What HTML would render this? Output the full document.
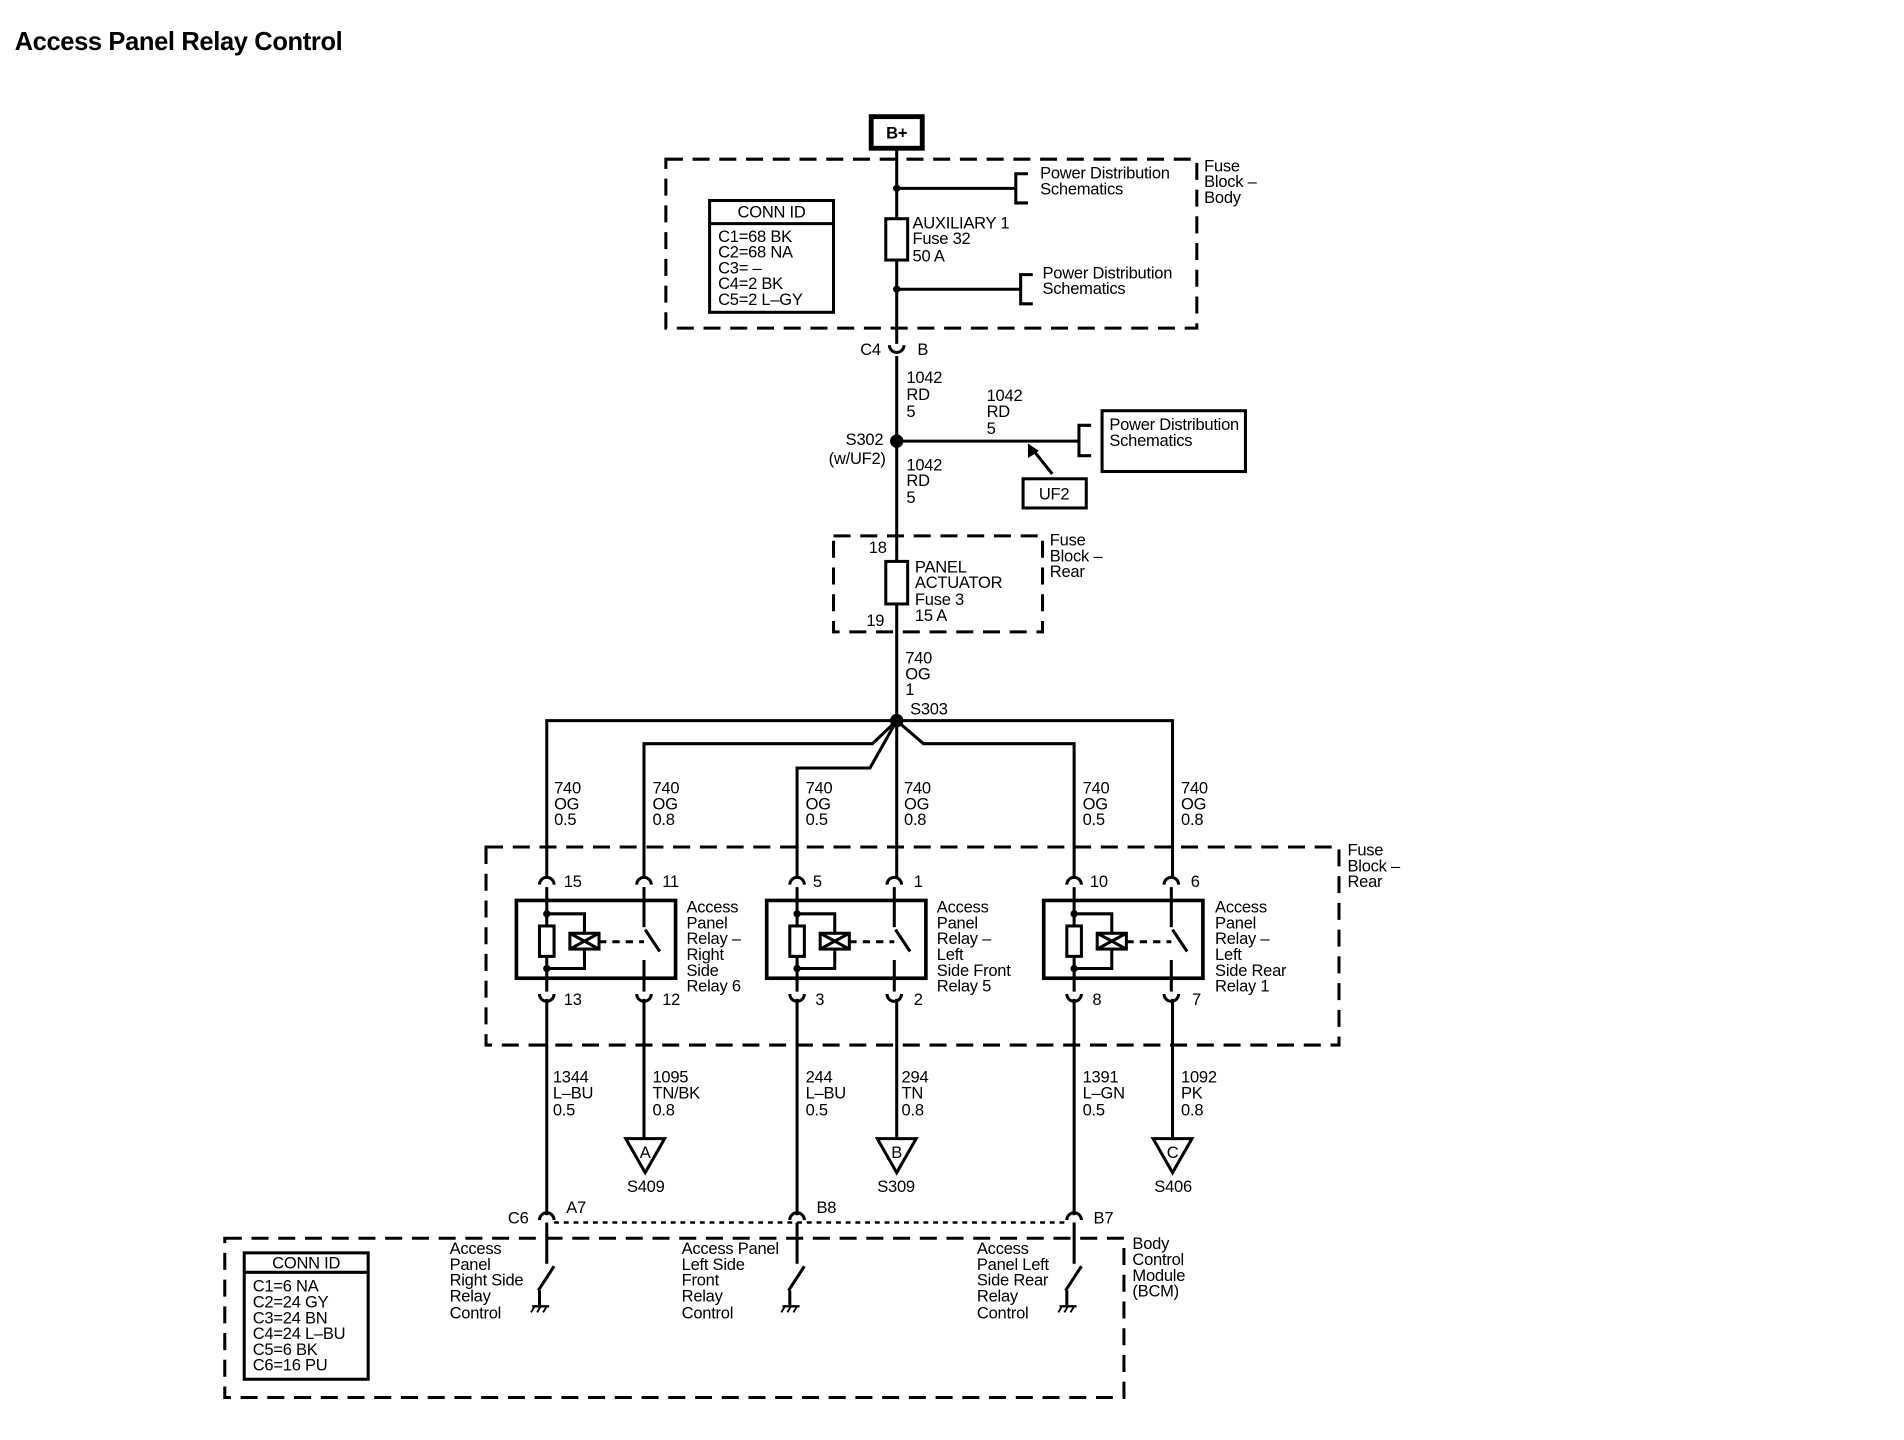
<!DOCTYPE html>
<html><head><meta charset="utf-8"><style>
html,body{margin:0;padding:0;background:#fff;}
svg{display:block}
text{font-family:"Liberation Sans",Arial,sans-serif;font-size:13.6px;fill:#000;letter-spacing:-0.2px}
</style></head><body>
<svg width="1904" height="1440" viewBox="0 0 1567 1185" preserveAspectRatio="none" xmlns="http://www.w3.org/2000/svg">
<g stroke="#000" stroke-width="2.5" fill="none">
<g stroke-dasharray="14,8">
<rect x="548" y="131" width="437" height="139"/>
<rect x="686" y="441" width="172" height="79"/>
<rect x="400" y="697" width="702" height="163"/>
<rect x="185" y="1019" width="740" height="131"/>
</g>
<line x1="456" y1="1006" x2="878" y2="1006" stroke-dasharray="4,4" stroke-width="2"/>
<rect x="717" y="96" width="42" height="26" stroke-width="4"/>
<line x1="738" y1="123" x2="738" y2="283"/>
<line x1="738" y1="293" x2="738" y2="593"/>
<path d="M732,284 A6,6 0 0 0 744,284"/>
<line x1="738" y1="155" x2="836" y2="155"/><path d="M846,143 H836 V167 H846"/>
<line x1="738" y1="238" x2="840" y2="238"/><path d="M850,226 H840 V250 H850"/>
<rect x="729" y="180" width="18" height="34" fill="#fff"/>
<rect x="584" y="165" width="102" height="92"/><line x1="584" y1="184" x2="686" y2="184"/>
<line x1="738" y1="363" x2="888" y2="363"/><path d="M898,350 H888 V375 H898"/>
<rect x="907" y="338" width="118" height="50"/>
<rect x="842" y="394" width="52" height="24"/>
<line x1="866" y1="390" x2="850" y2="370"/>
<rect x="729" y="462" width="18" height="35" fill="#fff"/>
<path d="M450,722 V593 H738"/>
<path d="M738,593 H965 V722"/>
<path d="M530,722 V612 H718 L738,593"/>
<path d="M656,722 V632 H716 L738,593"/>
<path d="M738,593 V722"/>
<path d="M884,722 V612 H760 L738,593"/>
<g id="r">
<path d="M444,728 A6,6 0 0 1 456,728"/>
<path d="M524,728 A6,6 0 0 1 536,728"/>
<line x1="450" y1="730" x2="450" y2="816"/>
<line x1="530" y1="730" x2="530" y2="763"/>
<line x1="530" y1="790" x2="530" y2="816"/>
<line x1="531" y1="765" x2="543" y2="783"/>
<rect x="425" y="741" width="131" height="64" stroke-width="3"/>
<rect x="444" y="762" width="12" height="25" fill="#fff"/>
<path d="M450,752 H481 V768 M481,781 V797 H450"/>
<rect x="469" y="768" width="24" height="13"/>
<path d="M469,768 L493,781 M493,768 L469,781"/>
<line x1="493" y1="775" x2="530" y2="775" stroke-dasharray="6,5"/>
<path d="M444,818 A6,6 0 0 0 456,818"/>
<path d="M524,818 A6,6 0 0 0 536,818"/>
</g>
<use href="#r" x="206"/><use href="#r" x="434"/>
<line x1="450" y1="822" x2="450" y2="1000"/>
<line x1="656" y1="822" x2="656" y2="1000"/>
<line x1="884" y1="822" x2="884" y2="1000"/>
<line x1="530" y1="822" x2="530" y2="937"/>
<line x1="738" y1="822" x2="738" y2="937"/>
<line x1="965" y1="822" x2="965" y2="937"/>
<path d="M515,937 H547 L531,965 Z"/>
<path d="M722,937 H754 L738,965 Z"/>
<path d="M949,937 H981 L965,965 Z"/>
<g id="s">
<path d="M444,1004 A6,6 0 0 1 456,1004"/>
<line x1="450" y1="1006" x2="450" y2="1040"/>
<line x1="456" y1="1042" x2="443" y2="1062"/>
<line x1="444" y1="1062" x2="444" y2="1074"/>
<line x1="438" y1="1075" x2="452" y2="1075" stroke-width="2"/>
<path d="M440,1075 l-3,5 M445,1075 l-3,5 M450,1075 l-3,5" stroke-width="1.5"/>
</g>
<use href="#s" x="206"/><use href="#s" x="434"/>
<rect x="201" y="1031" width="102" height="104"/><line x1="201" y1="1047" x2="303" y2="1047"/>
</g>
<circle cx="738" cy="155" r="3"/><circle cx="738" cy="238" r="3"/>
<circle cx="738" cy="363" r="5.5"/><circle cx="738" cy="593" r="5.5"/>
<path d="M846,365 l0,12 l9,-6 z"/>
<g id="d"><circle cx="450" cy="752" r="3"/><circle cx="450" cy="797" r="3"/></g>
<use href="#d" x="206"/><use href="#d" x="434"/>

<text x="12" y="41" style="font-size:21px;font-weight:bold;letter-spacing:-0.3px">Access Panel Relay Control</text>
<text x="738" y="114" text-anchor="middle" style="font-weight:bold">B+</text>
<text x="856" y="147">Power Distribution</text><text x="856" y="160">Schematics</text>
<text x="858" y="229">Power Distribution</text><text x="858" y="242">Schematics</text>
<text x="991" y="141">Fuse</text><text x="991" y="154">Block –</text><text x="991" y="167">Body</text>
<text x="751" y="188">AUXILIARY 1</text><text x="751" y="201">Fuse 32</text><text x="751" y="215">50 A</text>
<text x="635" y="179" text-anchor="middle">CONN ID</text>
<text x="591" y="199">C1=68 BK</text><text x="591" y="212">C2=68 NA</text><text x="591" y="225">C3= –</text><text x="591" y="238">C4=2 BK</text><text x="591" y="251">C5=2 L–GY</text>
<text x="708" y="292">C4</text><text x="755" y="292">B</text>
<text x="746" y="315">1042</text><text x="746" y="329">RD</text><text x="746" y="343">5</text>
<text x="812" y="330">1042</text><text x="812" y="343">RD</text><text x="812" y="357">5</text>
<text x="696" y="366">S302</text><text x="682" y="382">(w/UF2)</text>
<text x="913" y="354">Power Distribution</text><text x="913" y="367">Schematics</text>
<text x="855" y="411">UF2</text>
<text x="746" y="387">1042</text><text x="746" y="400">RD</text><text x="746" y="414">5</text>
<text x="864" y="449">Fuse</text><text x="864" y="462">Block –</text><text x="864" y="475">Rear</text>
<text x="715" y="455">18</text><text x="713" y="515">19</text>
<text x="753" y="471">PANEL</text><text x="753" y="484">ACTUATOR</text><text x="753" y="498">Fuse 3</text><text x="753" y="511">15 A</text>
<text x="745" y="546">740</text><text x="745" y="559">OG</text><text x="745" y="572">1</text>
<text x="749" y="588">S303</text>
<g id="w"><text x="456" y="653">740</text><text x="456" y="666">OG</text><text x="456" y="679">0.5</text>
<text x="537" y="653">740</text><text x="537" y="666">OG</text><text x="537" y="679">0.8</text></g>
<use href="#w" x="207"/><use href="#w" x="435"/>
<text x="1109" y="704">Fuse</text><text x="1109" y="717">Block –</text><text x="1109" y="730">Rear</text>
<text x="464" y="730">15</text><text x="545" y="730">11</text><text x="669" y="730">5</text><text x="752" y="730">1</text><text x="897" y="730">10</text><text x="980" y="730">6</text>
<text x="464" y="827">13</text><text x="545" y="827">12</text><text x="671" y="827">3</text><text x="752" y="827">2</text><text x="899" y="827">8</text><text x="981" y="827">7</text>
<text x="565" y="751">Access</text><text x="565" y="764">Panel</text><text x="565" y="777">Relay –</text><text x="565" y="790">Right</text><text x="565" y="803">Side</text><text x="565" y="816">Relay 6</text>
<text x="771" y="751">Access</text><text x="771" y="764">Panel</text><text x="771" y="777">Relay –</text><text x="771" y="790">Left</text><text x="771" y="803">Side Front</text><text x="771" y="816">Relay 5</text>
<text x="1000" y="751">Access</text><text x="1000" y="764">Panel</text><text x="1000" y="777">Relay –</text><text x="1000" y="790">Left</text><text x="1000" y="803">Side Rear</text><text x="1000" y="816">Relay 1</text>
<text x="455" y="891">1344</text><text x="455" y="904">L–BU</text><text x="455" y="918">0.5</text>
<text x="537" y="891">1095</text><text x="537" y="904">TN/BK</text><text x="537" y="918">0.8</text>
<text x="663" y="891">244</text><text x="663" y="904">L–BU</text><text x="663" y="918">0.5</text>
<text x="742" y="891">294</text><text x="742" y="904">TN</text><text x="742" y="918">0.8</text>
<text x="891" y="891">1391</text><text x="891" y="904">L–GN</text><text x="891" y="918">0.5</text>
<text x="972" y="891">1092</text><text x="972" y="904">PK</text><text x="972" y="918">0.8</text>
<text x="531" y="953" text-anchor="middle">A</text><text x="738" y="953" text-anchor="middle">B</text><text x="965" y="953" text-anchor="middle">C</text>
<text x="516" y="981">S409</text><text x="722" y="981">S309</text><text x="950" y="981">S406</text>
<text x="418" y="1007">C6</text><text x="466" y="998">A7</text><text x="672" y="998">B8</text><text x="900" y="1007">B7</text>
<text x="932" y="1028">Body</text><text x="932" y="1041">Control</text><text x="932" y="1054">Module</text><text x="932" y="1067">(BCM)</text>
<text x="370" y="1032">Access</text><text x="370" y="1045">Panel</text><text x="370" y="1058">Right Side</text><text x="370" y="1071">Relay</text><text x="370" y="1085">Control</text>
<text x="561" y="1032">Access Panel</text><text x="561" y="1045">Left Side</text><text x="561" y="1058">Front</text><text x="561" y="1071">Relay</text><text x="561" y="1085">Control</text>
<text x="804" y="1032">Access</text><text x="804" y="1045">Panel Left</text><text x="804" y="1058">Side Rear</text><text x="804" y="1071">Relay</text><text x="804" y="1085">Control</text>
<text x="252" y="1044" text-anchor="middle">CONN ID</text>
<text x="208" y="1063">C1=6 NA</text><text x="208" y="1076">C2=24 GY</text><text x="208" y="1089">C3=24 BN</text><text x="208" y="1102">C4=24 L–BU</text><text x="208" y="1115">C5=6 BK</text><text x="208" y="1128">C6=16 PU</text>
</svg>
</body></html>
